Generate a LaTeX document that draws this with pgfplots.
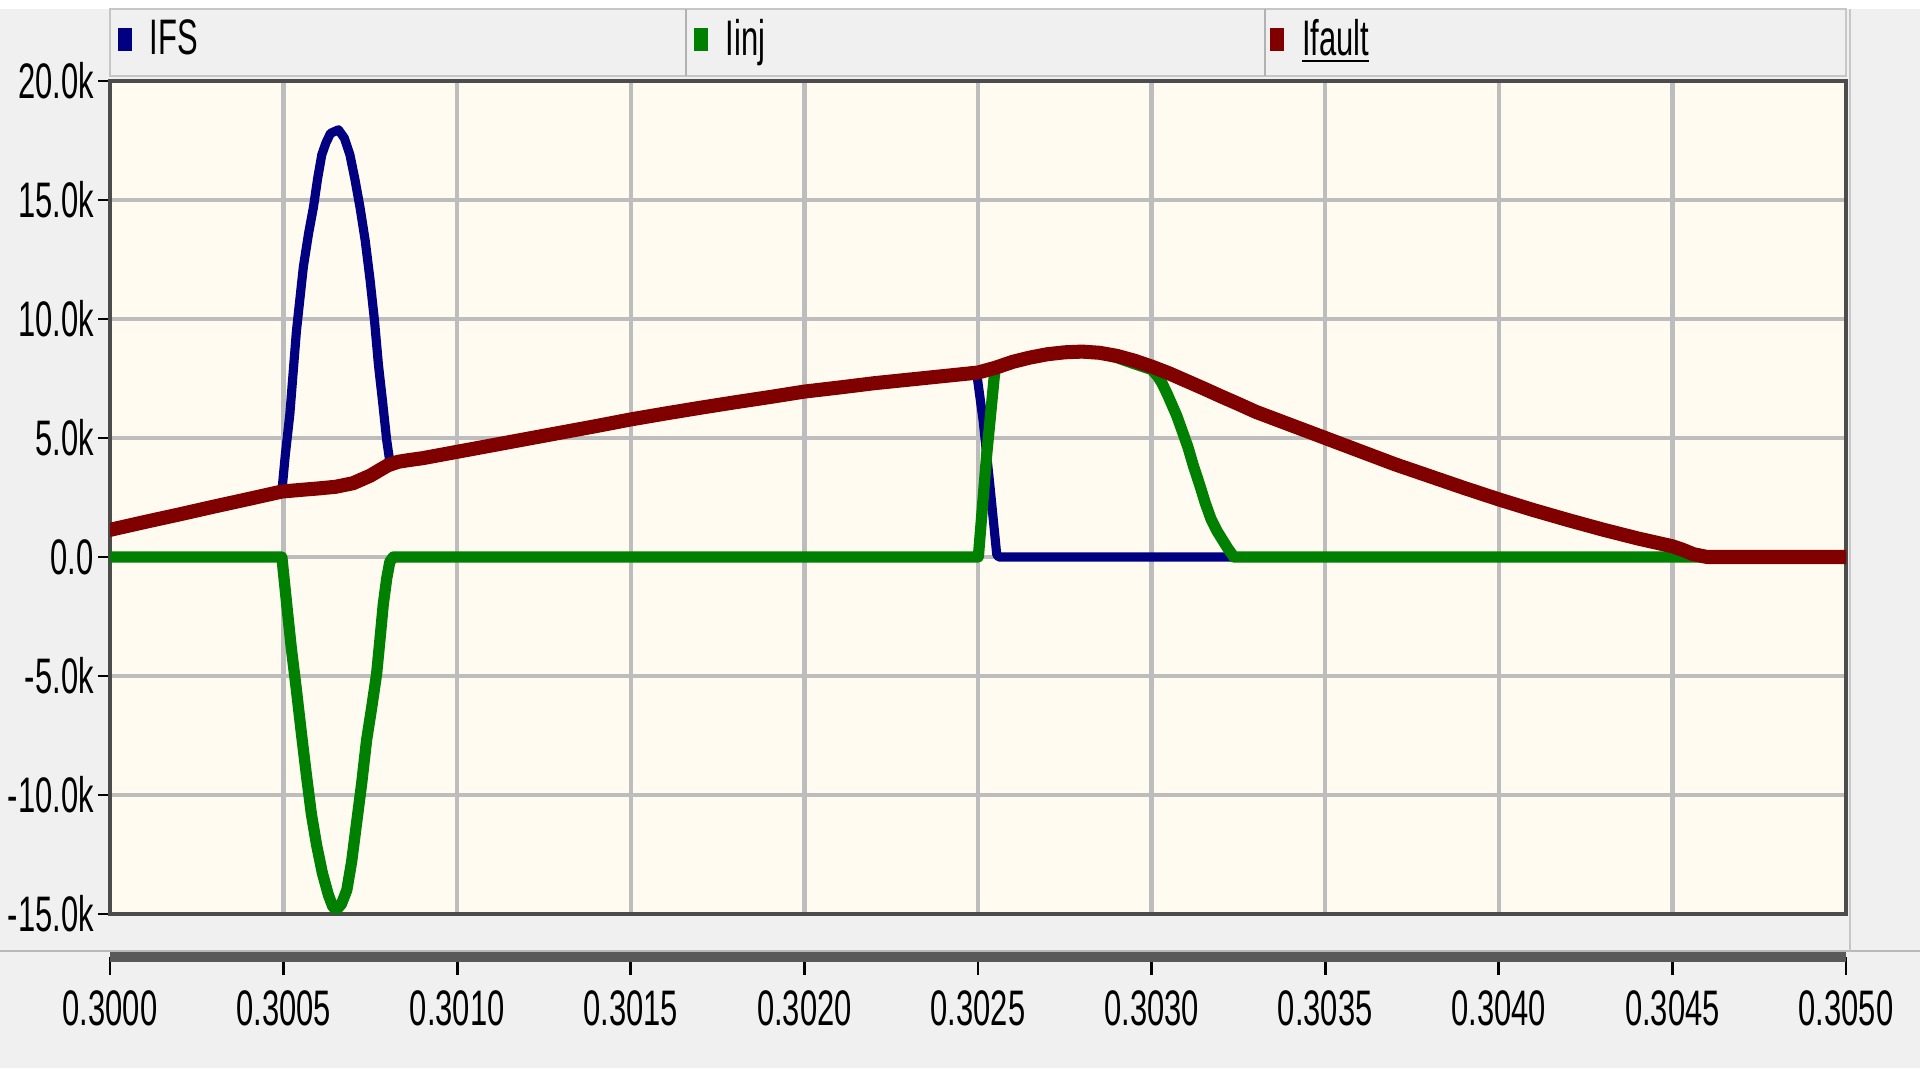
\documentclass[border=0pt]{standalone}
\usepackage{pgfplots}
\pgfplotsset{compat=1.18}
\usepackage{fontspec}
\setmainfont[FakeStretch=0.62]{Liberation Sans}
\definecolor{bgc}{HTML}{F0F0F0}
\definecolor{plotbg}{HTML}{FFFBF0}
\definecolor{gridc}{HTML}{BDBDBD}
\definecolor{cIFS}{HTML}{000080}
\definecolor{cInj}{HTML}{008000}
\definecolor{cFault}{HTML}{800000}
\newcommand\lab{\fontsize{14.2}{16}\selectfont}
\newcommand\LE[1]{\makebox[5.36cm][l]{\raisebox{0pt}[\height][0pt]{#1}}}
\pgfplotsset{sqlegend/.style={legend image code/.code={\path[draw=none,fill=none] (0cm,-0.1cm) (0.40cm,0.1cm);
    \fill[##1, draw=none] (0.08cm,-0.115cm) rectangle (0.22cm,0.115cm);}}}
\begin{document}
\begin{tikzpicture}
\useasboundingbox (0,0) rectangle (19.2,10.8);
\fill[bgc] (0,0) rectangle (19.2,10.8);
\fill[white] (0,10.71) rectangle (19.2,10.8);
\fill[white] (0,0) rectangle (19.2,0.12);
% legend bar
\fill[bgc] (1.10,10.04) rectangle (18.46,10.71);
\draw[gray!45, line width=0.6pt] (1.10,10.04) rectangle (18.46,10.71);
\draw[gray!60, line width=0.8pt] (6.86,10.04) -- (6.86,10.71);
\draw[gray!60, line width=0.8pt] (12.65,10.04) -- (12.65,10.71);
% panel lines
\draw[gray!55, line width=0.6pt] (0,1.29) -- (19.2,1.29);
\draw[gray!45, line width=0.6pt] (18.50,1.29) -- (18.50,10.71);

\begin{axis}[
  at={(1.10cm,1.66cm)}, anchor=south west,
  scale only axis, width=17.36cm, height=8.33cm,
  xmin=0.3, xmax=0.305, ymin=-15, ymax=20,
  xtick={0.3,0.3005,0.301,0.3015,0.302,0.3025,0.303,0.3035,0.304,0.3045,0.305},
  xticklabels={},
  x tick style={draw=none},
  ytick={-15,-10,-5,0,5,10,15,20},
  yticklabels={-15.0k,-10.0k,-5.0k,0.0,5.0k,10.0k,15.0k,20.0k},
  ytick pos=left, tick align=outside, major tick length=0.12cm,
  y tick style={black, line width=0.8pt},
  yticklabel style={font=\lab, inner sep=1pt},
  grid=major, grid style={gridc, line width=1.2pt},
  axis background/.style={fill=plotbg},
  axis line style={color=black!70, line width=1pt},
  legend columns=3,
  legend style={at={(0,1)}, anchor=west, yshift=0.41cm, draw=none, fill=none,
    inner sep=0pt, outer sep=0pt, font=\lab,
    nodes={inner sep=0pt}},
  every axis plot/.append style={line join=round, line cap=round},
]
% IFS
\addplot[sqlegend, color=cIFS, line width=2.6pt] coordinates {
(0.3000,1.14) (0.3001,1.47) (0.3002,1.79) (0.3003,2.12) (0.3004,2.44)
(0.300495,2.75) (0.300505,4.3) (0.300518,6.0) (0.300537,9.5) (0.300557,12.2)
(0.300572,13.6) (0.300586,14.7) (0.300598,15.9) (0.30061,16.9) (0.300622,17.4)
(0.300635,17.8) (0.300658,17.95) (0.300675,17.6) (0.300691,16.9) (0.300705,15.9)
(0.30072,14.7) (0.300735,13.3) (0.300749,11.65) (0.300762,9.9) (0.300773,8.1)
(0.300786,6.4) (0.300797,4.9) (0.300806,4.0)
(0.30083,4.0) (0.30086,4.07) (0.3009,4.15) (0.301,4.42) (0.3011,4.69)
(0.3012,4.96) (0.3013,5.23) (0.3014,5.5)
(0.3015,5.78) (0.3016,6.03) (0.3017,6.27) (0.3018,6.5) (0.3019,6.72) (0.302,6.95)
(0.3021,7.12) (0.3022,7.3) (0.3023,7.45) (0.3024,7.6) (0.302496,7.75)
(0.302515,5.7) (0.302535,2.9) (0.302554,0.1) (0.30256,0) (0.305,0)
};
\addlegendentry{\LE{IFS}}
% Iinj
\addplot[sqlegend, color=cInj, line width=3.2pt] coordinates {
(0.3000,0) (0.300495,0) (0.300509,-2.0) (0.300522,-3.8) (0.300537,-5.6)
(0.300552,-7.5) (0.300566,-9.2) (0.30058,-10.8) (0.300595,-12.1) (0.300612,-13.3)
(0.300629,-14.2) (0.300642,-14.7) (0.300653,-14.8) (0.300666,-14.6) (0.300682,-14.0)
(0.300696,-12.8) (0.30071,-11.2) (0.300725,-9.5) (0.300739,-7.7) (0.300754,-6.3)
(0.300768,-4.9) (0.300778,-3.4) (0.300787,-2.0) (0.300797,-0.9)
(0.300806,-0.2) (0.300816,0) (0.302501,0) (0.302525,4.3) (0.302549,7.9)
(0.3026,8.2) (0.30265,8.38) (0.3027,8.52) (0.30275,8.6) (0.3028,8.63)
(0.30285,8.56) (0.3029,8.38) (0.30295,8.12) (0.303,7.88) (0.303017,7.6)
(0.30303,7.3) (0.303045,6.85) (0.30306,6.35) (0.303072,5.95) (0.303088,5.3)
(0.303105,4.6) (0.30312,3.85) (0.303138,3.05) (0.303155,2.25) (0.303171,1.6)
(0.303188,1.1) (0.303205,0.7) (0.30322,0.35) (0.303237,0) (0.305,0)
};
\addlegendentry{\LE{Iinj}}
% Ifault
\addplot[sqlegend, color=cFault, line width=4pt] coordinates {
(0.3000,1.14) (0.3001,1.47) (0.3002,1.79) (0.3003,2.12) (0.3004,2.44)
(0.300495,2.75) (0.30055,2.82) (0.3006,2.88) (0.30065,2.95) (0.3007,3.1)
(0.30075,3.42) (0.30078,3.68) (0.3008,3.85) (0.30083,4.0) (0.30086,4.07)
(0.3009,4.15) (0.301,4.42) (0.3011,4.69)
(0.3012,4.96) (0.3013,5.23) (0.3014,5.5) (0.3015,5.78) (0.3016,6.03)
(0.3017,6.27) (0.3018,6.5) (0.3019,6.72) (0.302,6.95) (0.3021,7.12)
(0.3022,7.3) (0.3023,7.45) (0.3024,7.6) (0.3025,7.75) (0.30255,7.95)
(0.3026,8.2) (0.30265,8.38) (0.3027,8.52) (0.30275,8.6) (0.3028,8.63)
(0.30285,8.58) (0.3029,8.45) (0.30295,8.25) (0.303,8.0) (0.30305,7.72)
(0.3031,7.4) (0.30315,7.08) (0.3032,6.75) (0.30325,6.43) (0.3033,6.1)
(0.3034,5.55) (0.3035,5.0) (0.3036,4.45)
(0.3037,3.9) (0.3038,3.4) (0.3039,2.9) (0.304,2.42) (0.3041,1.97)
(0.3042,1.55) (0.3043,1.15) (0.3044,0.78) (0.3045,0.45) (0.30453,0.3)
(0.30456,0.12) (0.3046,0) (0.305,0)
};
\addlegendentry{\LE{\underline{Ifault}}}
\end{axis}

\begin{axis}[
  at={(1.10cm,1.23cm)}, anchor=south west,
  scale only axis, width=17.36cm, height=0.3cm,
  xmin=0.3, xmax=0.305, ymin=0, ymax=1,
  axis x line*=bottom, axis y line=none,
  x axis line style={-, line width=3pt, color=black!65},
  xtick={0.3,0.3005,0.301,0.3015,0.302,0.3025,0.303,0.3035,0.304,0.3045,0.305},
  xticklabels={0.3000,0.3005,0.3010,0.3015,0.3020,0.3025,0.3030,0.3035,0.3040,0.3045,0.3050},
  tick align=outside, major tick length=0.18cm,
  x tick style={black, line width=0.8pt},
  xticklabel style={font=\lab, inner sep=0pt, anchor=north, yshift=-0.15cm},
]
\addplot[draw=none] coordinates {(0.3,0.5) (0.305,0.5)};
\end{axis}
\end{tikzpicture}
\end{document}
